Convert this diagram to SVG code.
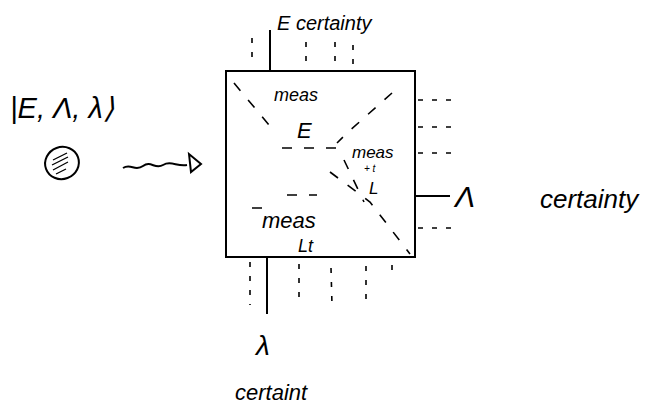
<svg xmlns="http://www.w3.org/2000/svg" width="667" height="404" viewBox="0 0 667 404">
<style>
text{font-family:"Liberation Sans",Arial,sans-serif;font-style:italic;fill:#000}
.s{stroke:#000;stroke-width:2;fill:none}
.d{stroke:#000;stroke-width:1.6;fill:none;stroke-dasharray:5 9}
.dd{stroke:#000;stroke-width:1.6;fill:none;stroke-dasharray:10 12}
</style>
<rect width="667" height="404" fill="#fff"/>
<g id="state">
<text x="10" y="118" font-size="29">|E, Λ, λ⟩</text>
</g>
<g id="particle">
<ellipse cx="62" cy="163" rx="17" ry="16" class="s" transform="rotate(-20 62 163)"/>
<path d="M53 160l14-7M52 165l16-8M53 170l15-8M56 174l10-5" stroke="#000" stroke-width="1.3"/>
</g>
<g id="box">
<rect x="226" y="71" width="189" height="186" class="s"/>
<text x="274" y="101" font-size="18">meas</text>
<text x="297" y="138" font-size="22">E</text>
<text x="352" y="158" font-size="17">meas</text>
<text x="364" y="172" font-size="10">+ t</text>
<text x="369" y="194" font-size="17">L</text>
<text x="262" y="228" font-size="22">meas</text>
<text x="298" y="252" font-size="18">Lt</text>
</g>
<g id="e-out">
<text x="277" y="30" font-size="20">E certainty</text>
</g>
<g id="lambda-out">
<text x="455" y="207" font-size="30">Λ</text>
<text x="540" y="208" font-size="26">certainty</text>
</g>
<g id="l-out">
<text x="256" y="355" font-size="28">λ</text>
<text x="235" y="400" font-size="22">certaint</text>
</g>
<g id="connectors">
<path class="s" d="M123 168c8-5 12 4 20-2 8-6 12 4 20-1 8-5 14 2 24 0"/>
<path class="s" d="M189 154l2 18 10-8z"/>
<line class="s" x1="270" y1="30" x2="270" y2="71"/>
<line class="s" x1="267" y1="257" x2="267" y2="314"/>
<line class="s" x1="415" y1="196" x2="450" y2="196"/>
<line class="d" x1="252" y1="38" x2="252" y2="66"/>
<line class="d" x1="306" y1="42" x2="306" y2="68"/>
<line class="d" x1="335" y1="42" x2="335" y2="68"/>
<line class="d" x1="353" y1="45" x2="353" y2="68"/>
<line class="d" x1="418" y1="100" x2="452" y2="100"/>
<line class="d" x1="418" y1="127" x2="452" y2="127"/>
<line class="d" x1="418" y1="153" x2="452" y2="153"/>
<line class="d" x1="418" y1="228" x2="452" y2="228"/>
<line class="d" x1="250" y1="262" x2="250" y2="305"/>
<line class="d" x1="299" y1="264" x2="299" y2="300"/>
<line class="d" x1="331" y1="268" x2="332" y2="305"/>
<line class="d" x1="366" y1="266" x2="366" y2="305"/>
<line class="d" x1="392" y1="265" x2="392" y2="275"/>
<path class="dd" d="M234 83l40 48M330 172l40 30l40 52"/>
<path class="dd" d="M392 93l-45 40l-10 10M344 160l20 42"/>
<path class="dd" d="M282 148h55M287 195h30M252 208h10"/>
</g>
</svg>
